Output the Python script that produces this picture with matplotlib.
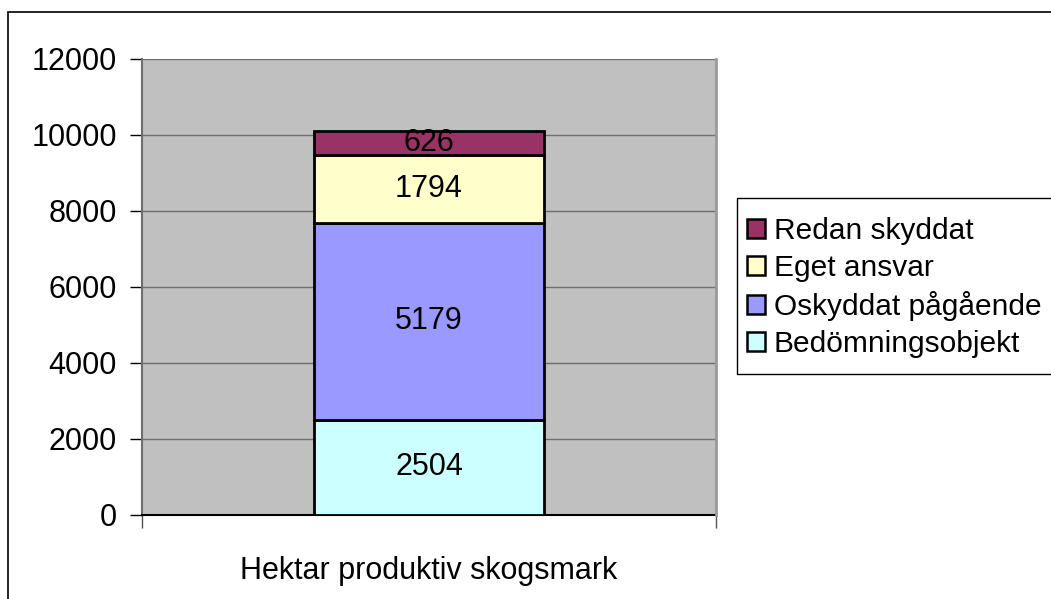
import matplotlib
matplotlib.use("Agg")
import matplotlib.pyplot as plt
from matplotlib.patches import Rectangle, Patch

plt.rcParams["font.family"] = ["Liberation Sans", "DejaVu Sans"]

# ── Data ───────────────────────────────────────────────────────────────────
category = "Hektar produktiv skogsmark"
series   = ["Bedömningsobjekt", "Oskyddat pågående", "Eget ansvar", "Redan skyddat"]
values   = [2504, 5179, 1794, 626]
colors   = ["#CCFFFF", "#9999FF", "#FFFFCC", "#993366"]
yticks   = [0, 2000, 4000, 6000, 8000, 10000, 12000]

FS = 22
W, H = 1051, 599
fig = plt.figure(figsize=(W / 100, H / 100), dpi=100)

# outer chart border (runs off right/bottom edge)
fig.add_artist(Rectangle((8 / W, -0.1), 1.2, 1 - 12 / H + 0.1,
                         transform=fig.transFigure, fill=False,
                         edgecolor="black", lw=1.2))

ax = fig.add_axes([142 / W, 1 - 515 / H, (716 - 142) / W, (515 - 59) / H])
ax.set_facecolor("#C0C0C0")
ax.set_xlim(-0.5, 0.5)
ax.set_ylim(0, 12000)

for y in yticks[1:]:
    ax.axhline(y, color="#6E6E6E", lw=1, zorder=1)

bottom = 0
for name, v, c in zip(series, values, colors):
    ax.bar(0, v, width=0.4, bottom=bottom, color=c, edgecolor="black",
           lw=2, zorder=3)
    ax.text(0, bottom + v / 2, str(v), ha="center", va="center",
            fontsize=FS, zorder=4)
    bottom += v

ax.set_yticks(yticks)
ax.set_yticklabels([str(t) for t in yticks], fontsize=FS)
ax.set_xticks([-0.5, 0.5])
ax.set_xticklabels(["", ""])
ax.text(0.5, -0.09, category, transform=ax.transAxes, ha="center", va="top",
        fontsize=FS)
ax.tick_params(axis="y", length=9, width=1, pad=9, color="black")
ax.tick_params(axis="x", length=9, width=1, color="#555555")

for s in ["top", "right"]:
    ax.spines[s].set_visible(False)
ax.spines["left"].set_color("#6E6E6E")
ax.spines["left"].set_linewidth(1.5)
ax.spines["bottom"].set_color("black")
ax.spines["bottom"].set_linewidth(1.5)
ax.plot([1, 1], [0, 1], transform=ax.transAxes, color="#9A9A9A", lw=2,
        clip_on=False, zorder=5)

# legend box (runs off the right edge like the original)
fig.add_artist(Rectangle((737 / W, 1 - 374 / H), 0.5, (374 - 198) / H,
                         transform=fig.transFigure, facecolor="white",
                         edgecolor="black", lw=1))
handles = [Patch(facecolor=c, edgecolor="black", lw=1.8, label=n)
           for n, c in zip(series, colors)][::-1]
leg = fig.legend(handles=handles, loc="upper left",
                 bbox_to_anchor=(737 / W, 1 - 207 / H), fontsize=21.5,
                 frameon=False,
                 handlelength=0.6, handleheight=0.6, handletextpad=0.28,
                 labelspacing=0.3, borderpad=0.35, borderaxespad=0)

fig.savefig("out.png", dpi=100)
